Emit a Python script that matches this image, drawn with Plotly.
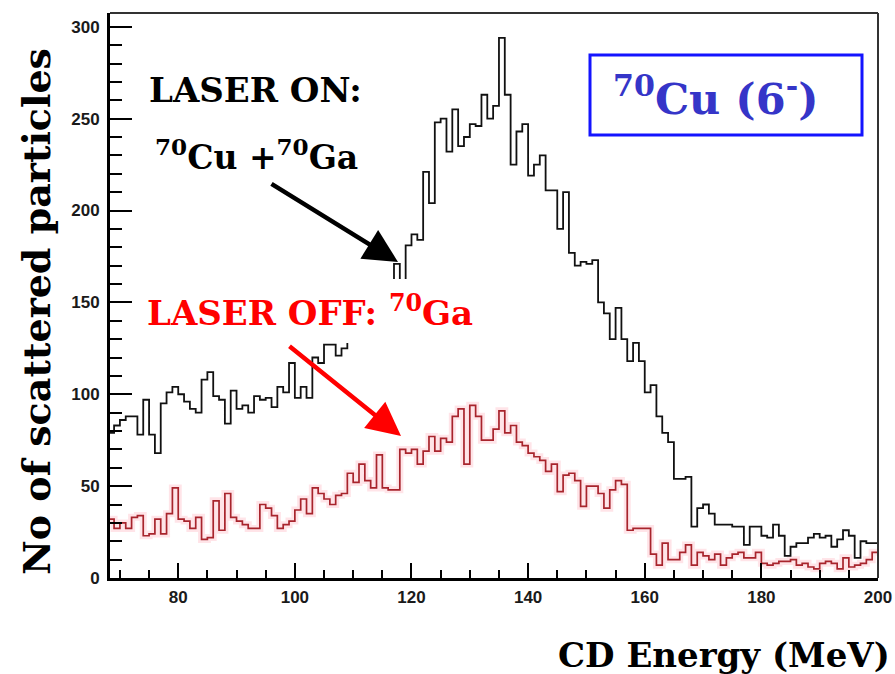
import plotly.graph_objects as go

# ---------------- data: 1 MeV bins from 68 to 200 MeV ----------------
bin_low_edges = list(range(68, 200))

laser_on_counts = [
    79, 83, 86, 88, 88, 78, 97, 78, 68, 95,          # 68-77
    101, 104, 100, 96, 92, 90, 108, 112, 99, 97,     # 78-87
    84, 102, 92, 94, 90, 99, 97, 98, 93, 104,        # 88-97
    101, 117, 98, 104, 98, 120, 117, 127, 127, 121,  # 98-107
    125, 135, 140, 138, 146, 150, 148, 155, 158, 171,  # 108-117
    150, 181, 187, 184, 221, 204, 248, 250, 232, 255,  # 118-127
    235, 240, 247, 246, 263, 250, 257, 294, 263, 225,  # 128-137
    243, 247, 219, 225, 230, 211, 211, 190, 210, 177,  # 138-147
    170, 172, 171, 173, 150, 144, 130, 147, 130, 118,  # 148-157
    128, 118, 101, 105, 88, 79, 74, 54, 54, 55,        # 158-167
    28, 38, 40, 35, 29, 29, 29, 28, 28, 18,            # 168-177
    28, 28, 23, 22, 29, 23, 12, 17, 19, 19,            # 178-187
    22, 24, 22, 23, 17, 21, 26, 23, 11, 20,            # 188-197
    19, 19,                                            # 198-199
]

laser_off_counts = [
    32, 27, 30, 27, 33, 34, 23, 24, 32, 24,          # 68-77
    35, 49, 32, 31, 27, 33, 21, 22, 42, 26,          # 78-87
    46, 33, 31, 29, 27, 27, 40, 38, 34, 27,          # 88-97
    29, 31, 37, 43, 35, 49, 46, 43, 40, 45,          # 98-107
    46, 57, 52, 62, 53, 49, 67, 49, 48, 48,          # 108-117
    70, 68, 70, 62, 69, 77, 69, 76, 74, 88,          # 118-127
    92, 62, 94, 88, 75, 75, 81, 91, 79, 83,          # 128-137
    74, 72, 68, 66, 64, 58, 62, 47, 56, 57,          # 138-147
    53, 39, 50, 50, 46, 38, 48, 53, 51, 26,          # 148-157
    27, 27, 27, 13, 7, 19, 10, 10, 14, 18,           # 158-167
    7, 14, 12, 10, 13, 7, 11, 13, 14, 11,            # 168-177
    11, 14, 8, 7, 8, 9, 9, 10, 7, 8,                 # 178-187
    6, 5, 8, 9, 8, 5, 11, 6, 7, 8,                   # 188-197
    10, 14,                                          # 198-199
]

x_tick_values = [80, 100, 120, 140, 160, 180, 200]
y_tick_values = [0, 50, 100, 150, 200, 250, 300]

# ---------------- page geometry ----------------
W, H = 895, 674
M_L, M_R, M_T, M_B = 110, 17, 13, 96
PLOT_W = W - M_L - M_R
PLOT_H = H - M_T - M_B


def px(x):
    """horizontal page pixel -> paper fraction"""
    return (x - M_L) / PLOT_W


def py(y):
    """vertical page pixel (from top) -> paper fraction"""
    return (H - M_B - y) / PLOT_H


def step_xy(edges, counts, width=1):
    xs = list(edges) + [edges[-1] + width]
    ys = list(counts) + [counts[-1]]
    return xs, ys


SERIF = "DejaVu Serif"
SANS = "Liberation Sans"

fig = go.Figure()

on_x, on_y = step_xy(bin_low_edges, laser_on_counts)
off_x, off_y = step_xy(bin_low_edges, laser_off_counts)

# soft pink glow under the laser-off spectrum
fig.add_trace(go.Scatter(
    x=off_x, y=off_y, mode="lines", line=dict(shape="hv", color="rgba(255,120,140,0.2)", width=7),
    hoverinfo="skip", showlegend=False,
))
fig.add_trace(go.Scatter(
    x=off_x, y=off_y, mode="lines", name="LASER OFF",
    line=dict(shape="hv", color="#a8242c", width=1.7), showlegend=False,
))
fig.add_trace(go.Scatter(
    x=on_x, y=on_y, mode="lines", name="LASER ON",
    line=dict(shape="hv", color="#111111", width=1.8), showlegend=False,
))

tick_font = dict(family=SANS, size=17, color="#1a1a1a", weight="bold")

fig.update_xaxes(
    range=[68.3, 200], tickmode="array", tickvals=x_tick_values, automargin=False,
    ticks="inside", ticklen=15, tickwidth=2, tickcolor="black",
    minor=dict(dtick=5, tick0=0, ticks="inside", ticklen=8, tickwidth=1.5, tickcolor="black", showgrid=False),
    showline=True, linewidth=3, linecolor="black", mirror=False,
    showgrid=False, zeroline=False, tickfont=tick_font, ticklabelstandoff=2,
)
fig.update_yaxes(
    range=[0, 307.5], tickmode="array", tickvals=y_tick_values, automargin=False,
    ticks="inside", ticklen=22, tickwidth=2, tickcolor="black",
    minor=dict(dtick=10, tick0=0, ticks="inside", ticklen=12, tickwidth=1.5, tickcolor="black", showgrid=False),
    showline=True, linewidth=3, linecolor="black", mirror=False,
    showgrid=False, zeroline=False, tickfont=tick_font, ticklabelstandoff=4,
)

shapes = [
    # top and right edges of the frame
    dict(type="line", xref="paper", yref="paper", x0=0, x1=1, y0=1, y1=1,
         line=dict(color="#333333", width=2)),
    dict(type="line", xref="paper", yref="paper", x0=1, x1=1, y0=0, y1=1,
         line=dict(color="#333333", width=2)),
    # blue frame around the isotope label
    dict(type="rect", xref="paper", yref="paper",
         x0=px(590), x1=px(862), y0=py(135), y1=py(55),
         line=dict(color="#1414ff", width=3), fillcolor="white"),
]

annotations = [
    dict(text="<b>LASER ON:</b>", x=px(147), y=py(90), xanchor="left", yanchor="middle",
         font=dict(family=SERIF, size=34, color="black")),
    dict(text="<b><sup>70</sup>Cu +<sup>70</sup>Ga</b>", x=px(153), y=py(155), xanchor="left", yanchor="middle",
         font=dict(family=SERIF, size=33, color="black")),
    dict(text="<b>LASER OFF: <sup>70</sup>Ga</b>", x=px(137), y=py(311), xanchor="left", yanchor="middle",
         font=dict(family=SERIF, size=34, color="#ff0000"), bgcolor="white", borderpad=10, borderwidth=0),
    dict(text="<b><sup>70</sup>Cu (6<sup>-</sup>)</b>", x=px(611), y=py(96), xanchor="left", yanchor="middle",
         font=dict(family=SERIF, size=43, color="#3535c8")),
    # arrows
    dict(text="", x=px(398), y=py(262), ax=-128, ay=-79, showarrow=True,
         arrowhead=2, arrowsize=1.5, arrowwidth=4.5, arrowcolor="black", standoff=0),
    dict(text="", x=px(401), y=py(436), ax=-113, ay=-91, showarrow=True,
         arrowhead=2, arrowsize=1.5, arrowwidth=4.5, arrowcolor="#ff0000", standoff=0),
    # axis titles
    dict(text="<b>No of scattered particles</b>", x=px(36), y=py(312), textangle=-90,
         xanchor="center", yanchor="middle", font=dict(family=SERIF, size=38, color="black")),
    dict(text="<b>CD Energy (MeV)</b>", x=px(892), y=py(655), xanchor="right", yanchor="middle",
         font=dict(family=SERIF, size=34, color="black")),
]
for a in annotations:
    a.setdefault("xref", "paper")
    a.setdefault("yref", "paper")
    a.setdefault("showarrow", False)

fig.update_layout(
    width=W, height=H, autosize=False,
    margin=dict(l=M_L, r=M_R, t=M_T, b=M_B, pad=0, autoexpand=False),
    paper_bgcolor="white", plot_bgcolor="white",
    shapes=shapes, annotations=annotations, showlegend=False,
)

fig.write_html("out.html")
